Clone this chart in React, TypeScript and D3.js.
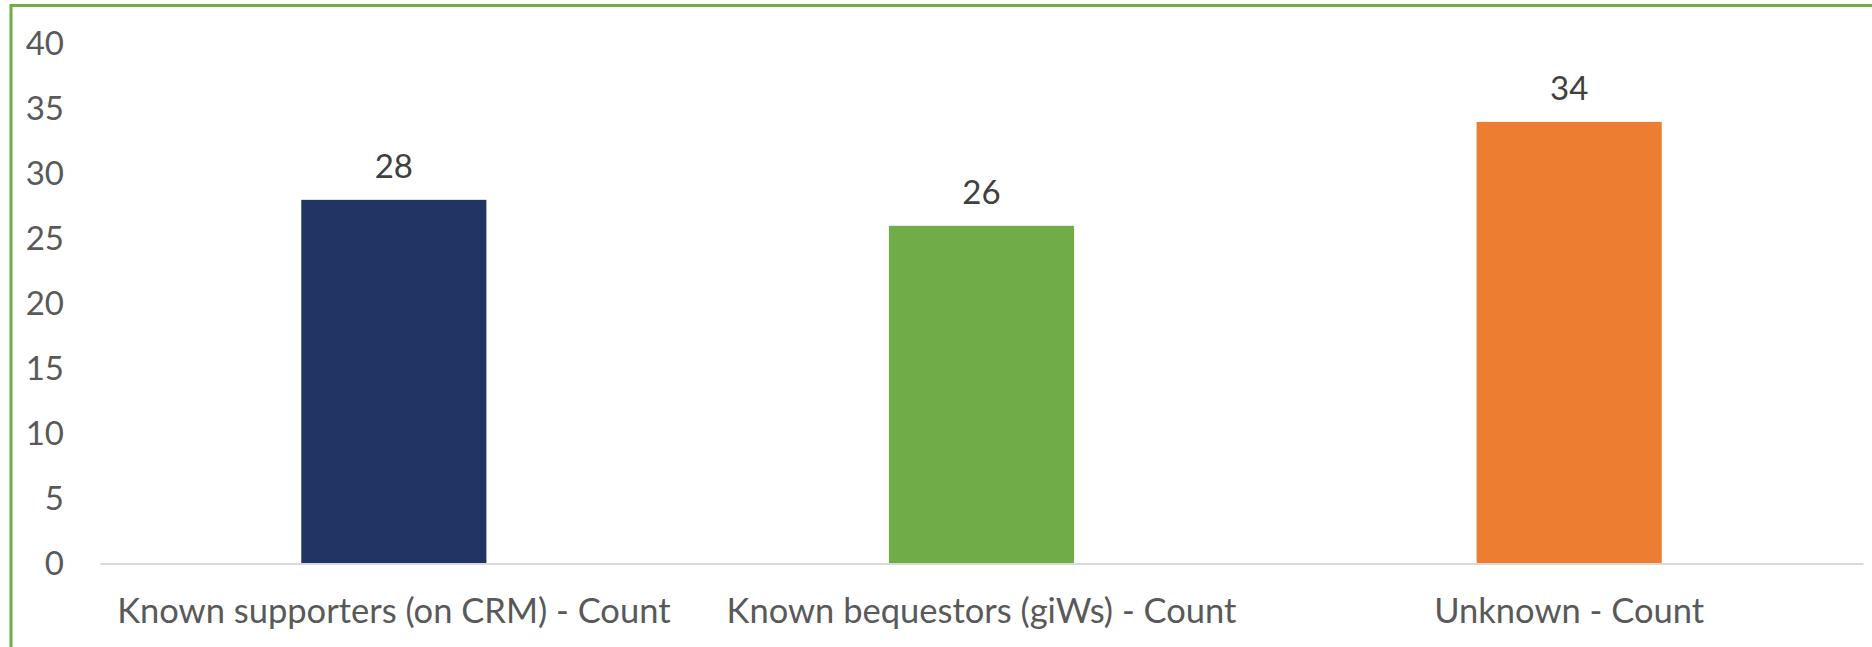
import React from 'react';
import * as d3 from 'd3';

// chart data
const categories = [
	'Known supporters (on CRM) - Count',
	'Known bequestors (giWs) - Count',
	'Unknown - Count',
];
const counts = [28, 26, 34];
const barColors = ['#223464', '#70ad47', '#ed7d31'];
const yTicks = [0, 5, 10, 15, 20, 25, 30, 35, 40];

const useD3 = (renderChartFn: (svg: any) => void, dependencies: any[]) => {
	const ref = React.useRef<SVGSVGElement>(null);
	React.useEffect(() => {
		renderChartFn(d3.select(ref.current));
		return () => {};
	}, dependencies);
	return ref;
};

function Chart() {
	const width = 1872;
	const height = 647;
	const margin = { top: 44, right: 9, bottom: 83, left: 100 };
	const font = 'Lato, "Open Sans", sans-serif';

	const ref = useD3(
		(svg) => {
			const x = d3
				.scaleBand()
				.domain(categories)
				.range([margin.left, width - margin.right])
				.paddingInner(0.685)
				.paddingOuter(0.3425);

			const y = d3
				.scaleLinear()
				.domain([0, 40])
				.range([height - margin.bottom - 0.5, margin.top]);

			const data = categories.map((c, i) => ({ name: c, value: counts[i], color: barColors[i] }));

			svg
				.select('.plot-area')
				.selectAll('.bar')
				.data(data)
				.join('rect')
				.attr('class', 'bar')
				.attr('x', (d) => x(d.name))
				.attr('width', x.bandwidth())
				.attr('y', (d) => y(d.value))
				.attr('height', (d) => y(0) - y(d.value))
				.attr('fill', (d) => d.color);

			svg
				.select('.labels')
				.selectAll('text')
				.data(data)
				.join('text')
				.attr('x', (d) => x(d.name) + x.bandwidth() / 2)
				.attr('y', (d) => y(d.value) - 22)
				.attr('text-anchor', 'middle')
				.attr('fill', '#404040')
				.style('font-family', font)
				.style('font-size', '33px')
				.text((d) => d.value);

			svg
				.select('.y-axis')
				.attr('transform', `translate(${margin.left},0)`)
				.call(d3.axisLeft(y).tickValues(yTicks).tickSize(0).tickPadding(36))
				.call((g) => g.select('.domain').remove())
				.call((g) =>
					g
						.selectAll('text')
						.attr('fill', '#595959')
						.style('font-family', font)
						.style('font-size', '33px')
				);

			svg
				.select('.x-axis')
				.attr('transform', `translate(0,${y(0)})`)
				.call(d3.axisBottom(x).tickSize(0).tickSizeOuter(0).tickPadding(35))
				.call((g) => g.select('.domain').attr('stroke', '#d9d9d9').attr('stroke-width', 2))
				.call((g) =>
					g
						.selectAll('text')
						.attr('fill', '#595959')
						.style('font-family', font)
						.style('font-size', '34.5px')
				);
		},
		[]
	);

	return (
		<svg
			ref={ref}
			width={width}
			height={height}
			style={{ position: 'absolute', left: 0, top: 0, background: '#fff' }}
		>
			<rect x={11} y={5.5} width={width} height={height} fill="none" stroke="#70ad47" strokeWidth={3} />
			<g className="plot-area" />
			<g className="labels" />
			<g className="x-axis" />
			<g className="y-axis" />
		</svg>
	);
}

export default function App() {
	return <Chart />;
}
